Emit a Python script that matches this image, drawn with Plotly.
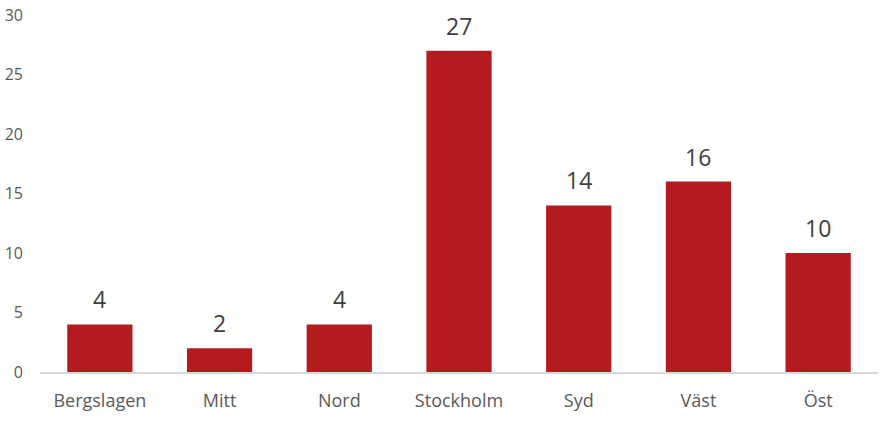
import plotly.graph_objects as go

categories = ["Bergslagen", "Mitt", "Nord", "Stockholm", "Syd", "Väst", "Öst"]
values = [4, 2, 4, 27, 14, 16, 10]
y_ticks = [0, 5, 10, 15, 20, 25, 30]

bar_color = "#B31B1F"
font_family = "Open Sans, Noto Sans, sans-serif"

fig = go.Figure(go.Bar(x=categories, y=values, marker_color=bar_color,
                       marker_line_width=0, cliponaxis=False))

for c, v in zip(categories, values):
    fig.add_annotation(x=c, y=v, text=str(v), showarrow=False, yanchor="bottom",
                       yshift=7, font=dict(size=23, color="#404040", family=font_family))

fig.update_layout(
    width=888, height=421,
    margin=dict(l=40, r=10, t=15, b=49),
    plot_bgcolor="white", paper_bgcolor="white",
    bargap=0.455,
    showlegend=False,
    font=dict(family=font_family),
)
fig.update_xaxes(showline=True, linecolor="#D9D9D9", linewidth=1.5, showgrid=False,
                 tickfont=dict(size=18, color="#595959"), ticks="", ticklabelstandoff=12,
                 automargin=False)
fig.update_yaxes(range=[0, 30], tickvals=y_ticks, showgrid=False, zeroline=False,
                 showline=False, tickfont=dict(size=16, color="#595959"), ticks="",
                 ticklabelstandoff=16, automargin=False)

fig.write_html("out.html", post_script="document.body.style.margin='0';",
               config={"displayModeBar": False})
